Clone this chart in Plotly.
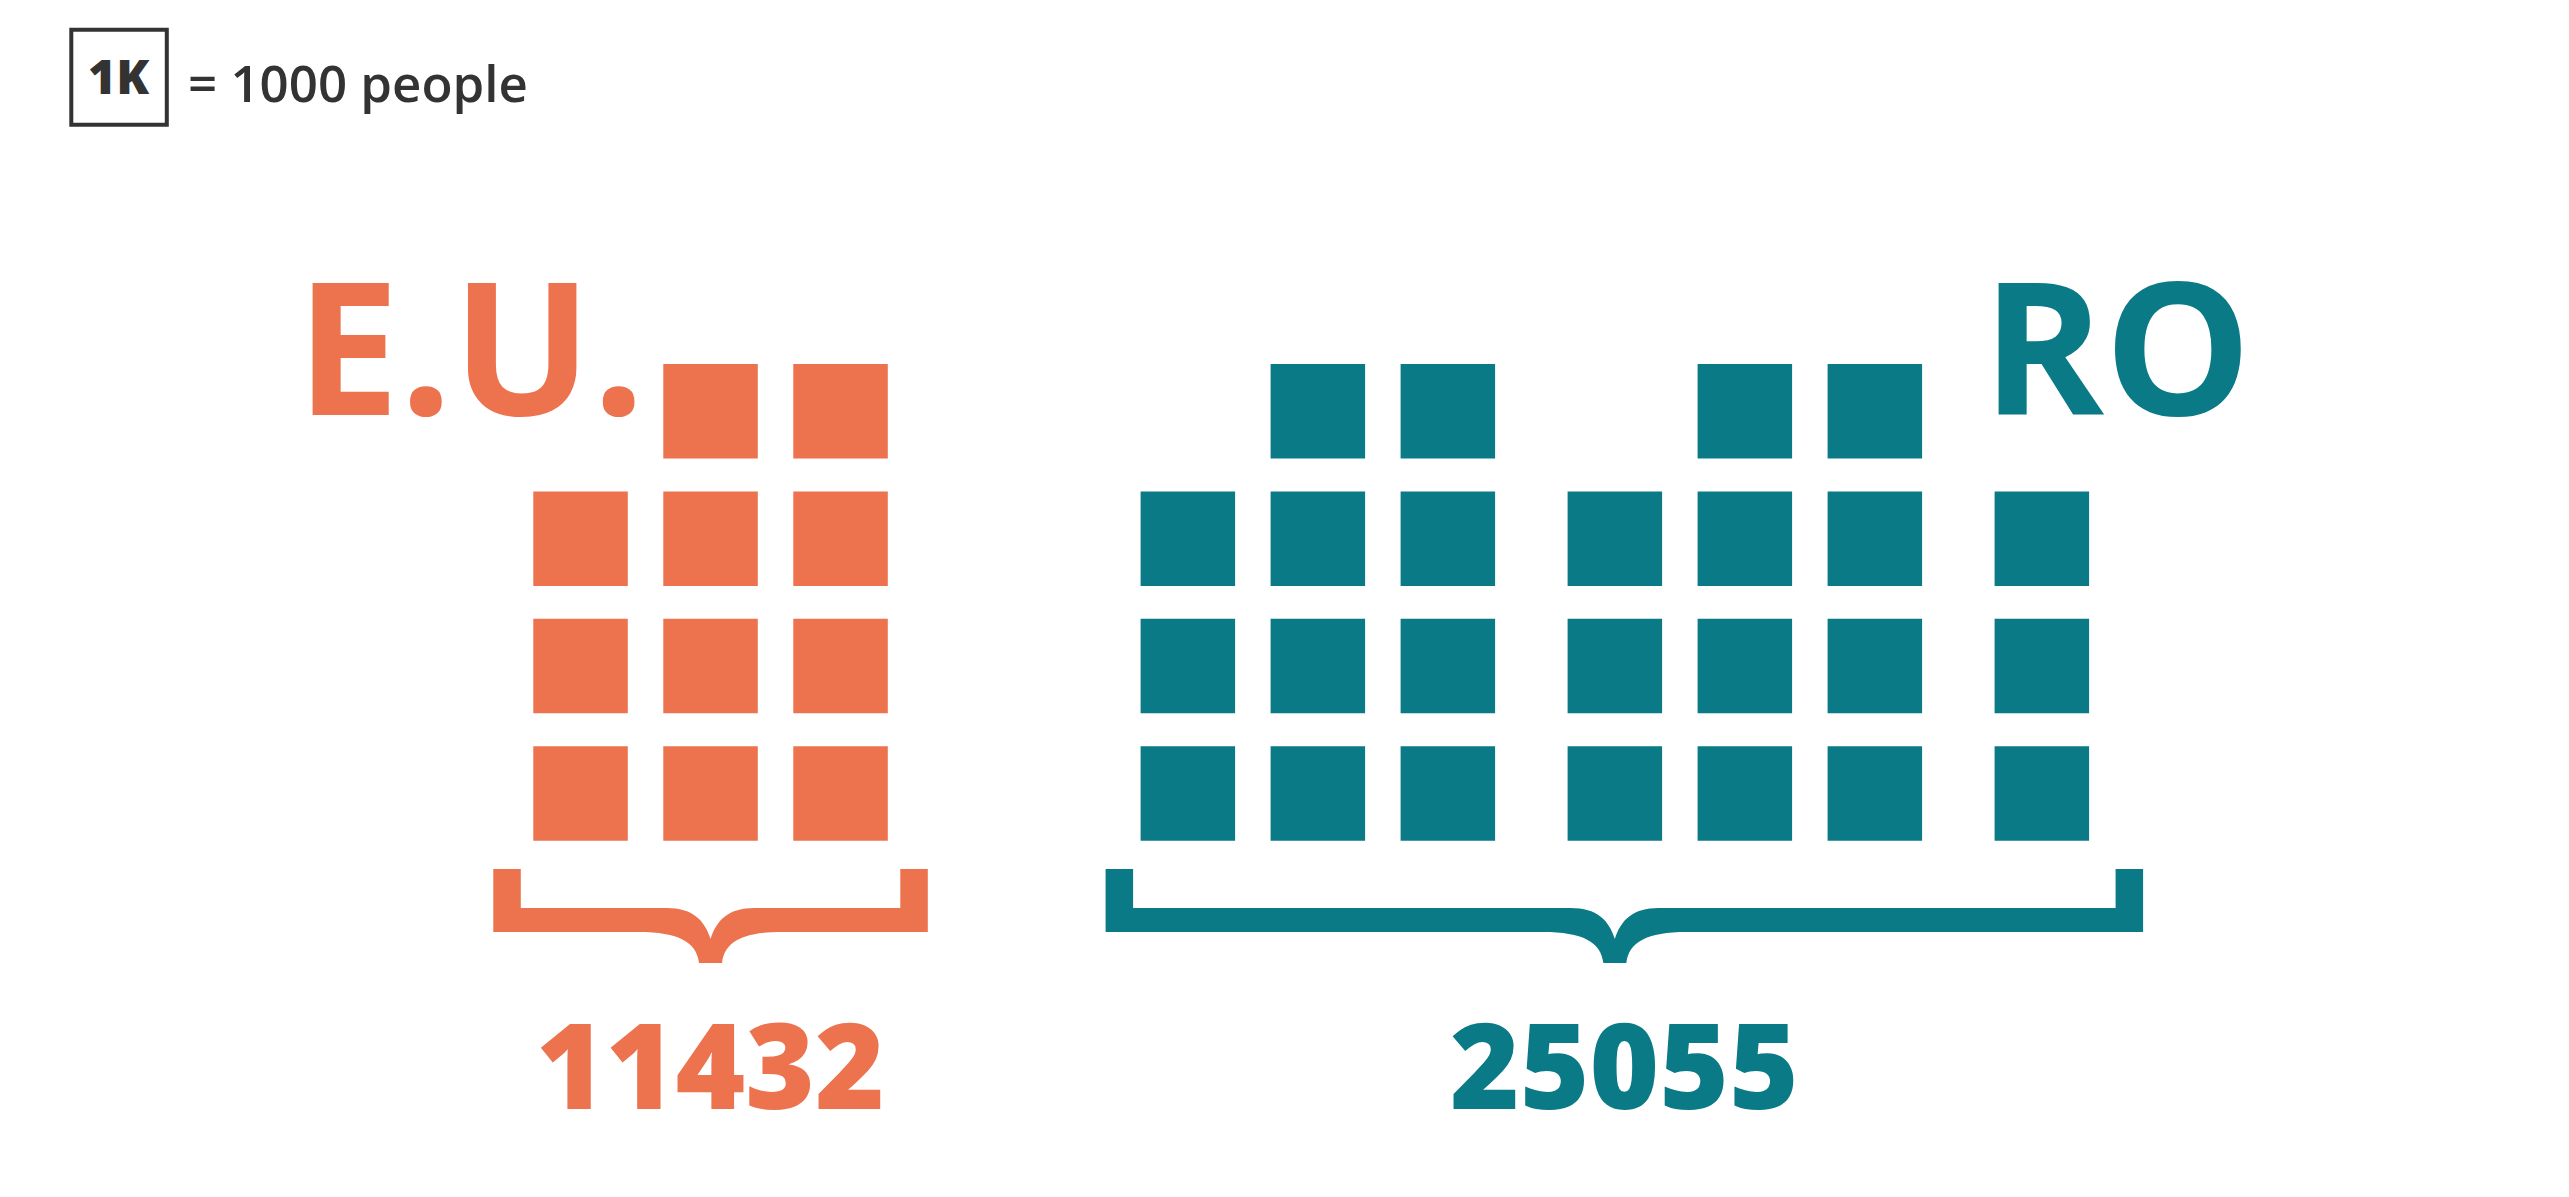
import plotly.graph_objects as go

# ---------------- data ----------------
groups = ["E.U.", "RO"]
totals = [11432, 25055]
eu_column_counts = [3, 4, 4]
ro_column_counts = [3, 4, 4, 3, 4, 4, 3]
unit_label = "1K"
unit_text = "= 1000 people"

# ---------------- style / layout ----------------
W, H = 2569, 1197
ORANGE = "#EC734E"
TEAL = "#0A7A87"
DARK = "#333333"
colors = [ORANGE, TEAL]
group_lefts = [533.3, 1140.6]
COL_STEP = 130.0
BLOCK_STEP = 427.0
COLS_PER_BLOCK = 3
SQ = 94.5
ROW_BOTTOM_CENTER = 793.5
ROW_STEP = 127.4
brace_pads = [(40, 40), (35, 54)]
label_pos = [(470, 343), (2116, 343)]

fig = go.Figure()
shapes = []
annotations = []


def brace_path(L, R, C):
    T, Y1, Y2, YT, tv = 869, 908, 932, 963, 27.5
    return (
        f"M {L},{T} L {L},{Y2} L {C-72},{Y2} "
        f"C {C-32},{Y2} {C-14},{Y2+10} {C-11.5},{YT} "
        f"L {C+11.5},{YT} "
        f"C {C+14},{Y2+10} {C+32},{Y2} {C+72},{Y2} "
        f"L {R},{Y2} L {R},{T} L {R-tv},{T} L {R-tv},{Y1} L {C+44},{Y1} "
        f"C {C+18},{Y1} {C+6},{Y1+12} {C},{Y1+31} "
        f"C {C-6},{Y1+12} {C-18},{Y1} {C-44},{Y1} "
        f"L {L+tv},{Y1} L {L+tv},{T} Z"
    )


for gi, counts in enumerate([eu_column_counts, ro_column_counts]):
    xs, ys = [], []
    for c, n in enumerate(counts):
        block, cin = divmod(c, COLS_PER_BLOCK)
        xc = group_lefts[gi] + block * BLOCK_STEP + cin * COL_STEP + SQ / 2
        for r in range(n):
            xs.append(xc)
            ys.append(ROW_BOTTOM_CENTER - r * ROW_STEP)
    fig.add_trace(go.Scatter(
        x=xs, y=ys, mode="markers",
        marker=dict(symbol="square", size=SQ, color=colors[gi], line=dict(width=0)),
        hoverinfo="skip", showlegend=False,
    ))
    left = min(xs) - SQ / 2
    right = max(xs) + SQ / 2
    center = (left + right) / 2
    L = left - brace_pads[gi][0]
    R = right + brace_pads[gi][1]
    shapes.append(dict(type="path", xref="x", yref="y", path=brace_path(L, R, center),
                       fillcolor=colors[gi], line=dict(width=0)))
    annotations.append(dict(
        x=(L + R) / 2, y=1063, xref="x", yref="y", text=str(totals[gi]),
        showarrow=False, xanchor="center", yanchor="middle",
        font=dict(family="Open Sans", size=119, color=colors[gi], weight=800),
    ))
    annotations.append(dict(
        x=label_pos[gi][0], y=label_pos[gi][1], xref="x", yref="y", text=groups[gi],
        showarrow=False, xanchor="center", yanchor="middle",
        font=dict(family="Open Sans", size=185, color=colors[gi], weight=700),
    ))

# legend key
shapes.append(dict(type="rect", xref="x", yref="y", x0=71.3, x1=166.8, y0=29.7, y1=124.7,
                   line=dict(color=DARK, width=4), fillcolor="rgba(0,0,0,0)"))
annotations.append(dict(x=118.5, y=75.7, xref="x", yref="y", text=unit_label,
                        showarrow=False, xanchor="center", yanchor="middle",
                        font=dict(family="Open Sans", size=48, color=DARK, weight=800)))
annotations.append(dict(x=186, y=81.5, xref="x", yref="y", text=unit_text,
                        showarrow=False, xanchor="left", yanchor="middle",
                        font=dict(family="Open Sans", size=51, color=DARK, weight=600)))

fig.update_layout(
    width=W, height=H, margin=dict(l=0, r=0, t=0, b=0),
    paper_bgcolor="white", plot_bgcolor="white",
    xaxis=dict(range=[0, W], visible=False, fixedrange=True),
    yaxis=dict(range=[H, 0], visible=False, fixedrange=True),
    shapes=shapes, annotations=annotations,
)

fig.write_html("out.html", config={"displayModeBar": False},
               post_script="document.body.style.margin='0';document.body.style.overflow='hidden';")
